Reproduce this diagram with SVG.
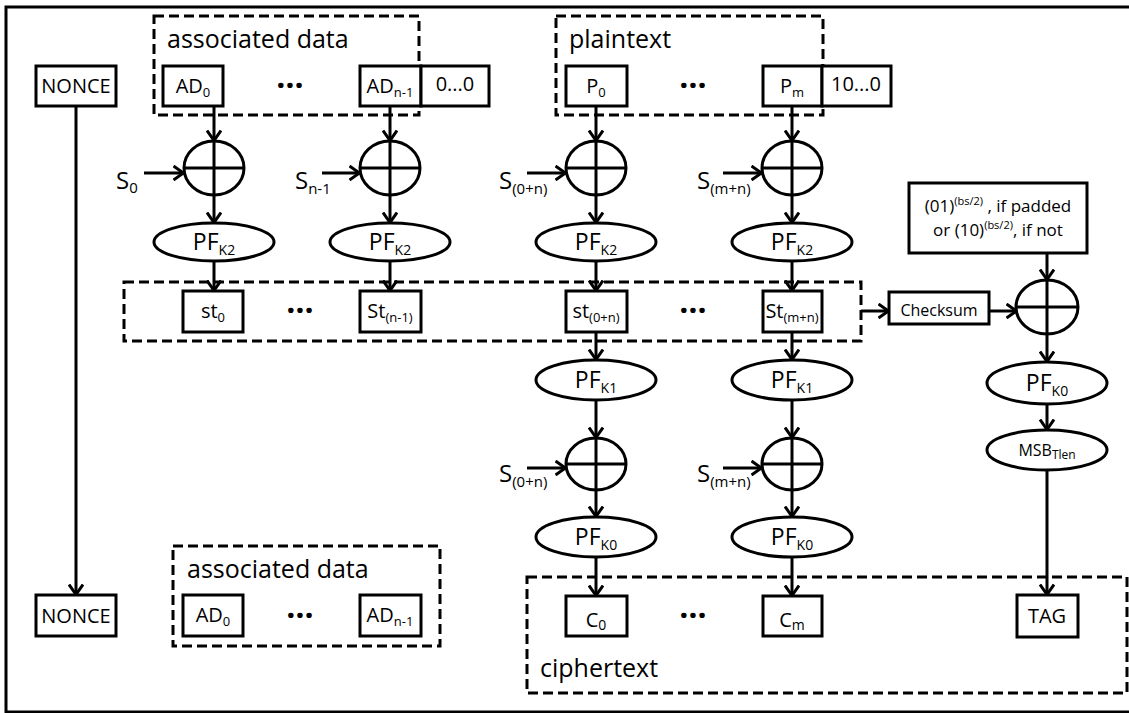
<svg xmlns="http://www.w3.org/2000/svg" width="1129" height="713" viewBox="0 0 1129 713">
<style>
text{font-family:"Open Sans","Liberation Sans",sans-serif;fill:#000}
.box{fill:#fff;stroke:#000;stroke-width:3}
.ell{fill:#fff;stroke:#000;stroke-width:3}
.grp{fill:none;stroke:#000;stroke-width:3;stroke-dasharray:10 5}
.ln{fill:none;stroke:#000;stroke-width:3}
.arr{fill:none;stroke:#000;stroke-width:3;marker-end:url(#ah)}
.lbl{font-size:20px;text-anchor:middle}
.big{font-size:25px}
.dots{font-size:32px;font-weight:bold;text-anchor:middle}
.pf{font-size:23px;text-anchor:middle}
.s{font-size:24px}
</style>
<defs>
<marker id="ah" viewBox="0 0 13 16" refX="11.5" refY="8" markerWidth="13" markerHeight="16" markerUnits="userSpaceOnUse" orient="auto">
<path d="M1,1 L11,8 L1,15" fill="none" stroke="#000" stroke-width="3"/>
</marker>
</defs>
<rect x="0" y="0" width="1129" height="713" fill="#fff"/>
<path id="frame" d="M1129,7 H6 V712 H1129" fill="none" stroke="#000" stroke-width="3"/>

<g id="groups">
<rect id="ad-top-group" class="grp" x="154" y="16" width="265" height="99"/>
<text class="big" x="167" y="48">associated data</text>
<rect id="pt-group" class="grp" x="556" y="16" width="267" height="99"/>
<text class="big" x="569" y="48">plaintext</text>
<rect id="st-group" class="grp" x="124" y="282" width="737" height="59"/>
<rect id="ad-bottom-group" class="grp" x="173" y="546" width="267" height="100"/>
<text class="big" x="187" y="578">associated data</text>
<rect id="ct-group" class="grp" x="527" y="577" width="600" height="116"/>
<text class="big" x="540" y="677">ciphertext</text>
</g>

<g id="connectors">
<line class="arr" x1="76" y1="106" x2="76" y2="595"/>
<line class="arr" x1="214" y1="106" x2="214" y2="141"/>
<line class="arr" x1="390" y1="106" x2="390" y2="141"/>
<line class="arr" x1="596" y1="106" x2="596" y2="141"/>
<line class="arr" x1="792" y1="106" x2="792" y2="141"/>
<line class="arr" x1="144" y1="173" x2="184" y2="173"/>
<line class="arr" x1="322" y1="173" x2="360" y2="173"/>
<line class="arr" x1="527" y1="173" x2="566" y2="173"/>
<line class="arr" x1="723" y1="173" x2="762" y2="173"/>
<line class="arr" x1="214" y1="195" x2="214" y2="223"/>
<line class="arr" x1="390" y1="195" x2="390" y2="223"/>
<line class="arr" x1="596" y1="195" x2="596" y2="223"/>
<line class="arr" x1="792" y1="195" x2="792" y2="223"/>
<line class="arr" x1="214" y1="261" x2="214" y2="291"/>
<line class="arr" x1="390" y1="261" x2="390" y2="291"/>
<line class="arr" x1="596" y1="261" x2="596" y2="291"/>
<line class="arr" x1="792" y1="261" x2="792" y2="291"/>
<line class="arr" x1="596" y1="332" x2="596" y2="360"/>
<line class="arr" x1="792" y1="332" x2="792" y2="360"/>
<line class="arr" x1="596" y1="400" x2="596" y2="438"/>
<line class="arr" x1="792" y1="400" x2="792" y2="438"/>
<line class="arr" x1="527" y1="468" x2="566" y2="468"/>
<line class="arr" x1="723" y1="468" x2="762" y2="468"/>
<line class="arr" x1="596" y1="490" x2="596" y2="517"/>
<line class="arr" x1="792" y1="490" x2="792" y2="517"/>
<line class="arr" x1="596" y1="557" x2="596" y2="596"/>
<line class="arr" x1="792" y1="557" x2="792" y2="596"/>
<line class="arr" x1="861" y1="311" x2="889" y2="311"/>
<line class="arr" x1="989" y1="311" x2="1017" y2="311"/>
<line class="arr" x1="1047" y1="253" x2="1047" y2="280"/>
<line class="arr" x1="1047" y1="334" x2="1047" y2="362"/>
<line class="arr" x1="1047" y1="404" x2="1047" y2="430"/>
<line class="arr" x1="1047" y1="470" x2="1047" y2="595"/>
</g>

<g id="s-labels">
<text class="s" x="116" y="189">S<tspan font-size="15" dy="4">0</tspan></text>
<text class="s" x="295" y="189">S<tspan font-size="15" dy="5">n-1</tspan></text>
<text class="s" x="499" y="189">S<tspan font-size="15" dy="5">(0+n)</tspan></text>
<text class="s" x="697" y="189">S<tspan font-size="15" dy="5">(m+n)</tspan></text>
<text class="s" x="499" y="482">S<tspan font-size="15" dy="5">(0+n)</tspan></text>
<text class="s" x="697" y="482">S<tspan font-size="15" dy="5">(m+n)</tspan></text>
</g>

<g id="nonce-top"><rect class="box" x="36" y="66" width="80" height="40"/><text class="lbl" x="76" y="93" font-size="20">NONCE</text></g>
<g id="ad0-top"><rect class="box" x="163" y="66" width="60" height="40"/><text class="lbl" x="193" y="93">AD<tspan font-size="13" dy="4">0</tspan></text></g>
<g id="adn1-top"><rect class="box" x="360" y="66" width="61" height="40"/><text class="lbl" x="390" y="93">AD<tspan font-size="13" dy="4">n-1</tspan></text></g>
<g id="pad-ad"><rect class="box" x="421" y="66" width="68" height="40"/><text class="lbl" x="455" y="91" font-size="15">0...0</text></g>
<g id="p0"><rect class="box" x="566" y="66" width="61" height="40"/><text class="lbl" x="596" y="93">P<tspan font-size="13" dy="4">0</tspan></text></g>
<g id="pm"><rect class="box" x="763" y="66" width="59" height="40"/><text class="lbl" x="792" y="93">P<tspan font-size="13" dy="4">m</tspan></text></g>
<g id="pad-p"><rect class="box" x="822" y="66" width="69" height="40"/><text class="lbl" x="856" y="91" font-size="15">10...0</text></g>
<text class="dots" x="290" y="88">…</text>
<text class="dots" x="693" y="88">…</text>

<g id="xor-ad0"><ellipse class="ell" cx="214" cy="168" rx="30" ry="27"/><path class="ln" d="M214,141V195M184,168H244"/></g>
<g id="xor-adn1"><ellipse class="ell" cx="390" cy="168" rx="30" ry="27"/><path class="ln" d="M390,141V195M360,168H420"/></g>
<g id="xor-p0"><ellipse class="ell" cx="596" cy="168" rx="30" ry="27"/><path class="ln" d="M596,141V195M566,168H626"/></g>
<g id="xor-pm"><ellipse class="ell" cx="792" cy="168" rx="30" ry="27"/><path class="ln" d="M792,141V195M762,168H822"/></g>

<g id="pfk2-ad0"><ellipse class="ell" cx="214" cy="242" rx="60" ry="19"/><text class="pf" x="214" y="250">PF<tspan font-size="14" dy="5">K2</tspan></text></g>
<g id="pfk2-adn1"><ellipse class="ell" cx="390" cy="242" rx="60" ry="19"/><text class="pf" x="390" y="250">PF<tspan font-size="14" dy="5">K2</tspan></text></g>
<g id="pfk2-p0"><ellipse class="ell" cx="596" cy="242" rx="60" ry="19"/><text class="pf" x="596" y="250">PF<tspan font-size="14" dy="5">K2</tspan></text></g>
<g id="pfk2-pm"><ellipse class="ell" cx="792" cy="242" rx="60" ry="19"/><text class="pf" x="792" y="250">PF<tspan font-size="14" dy="5">K2</tspan></text></g>

<g id="st0"><rect class="box" x="183" y="291" width="60" height="41"/><text class="lbl" x="213" y="318">st<tspan font-size="13" dy="4">0</tspan></text></g>
<g id="stn1"><rect class="box" x="360" y="291" width="61" height="41"/><text class="lbl" x="390" y="318">St<tspan font-size="13" dy="4">(n-1)</tspan></text></g>
<g id="st0n"><rect class="box" x="566" y="291" width="61" height="41"/><text class="lbl" x="596" y="318">st<tspan font-size="13" dy="4">(0+n)</tspan></text></g>
<g id="stmn"><rect class="box" x="763" y="291" width="59" height="41"/><text class="lbl" x="792" y="318">St<tspan font-size="13" dy="4">(m+n)</tspan></text></g>
<text class="dots" x="300" y="313">…</text>
<text class="dots" x="693" y="313">…</text>

<g id="pfk1-0"><ellipse class="ell" cx="596" cy="380" rx="60" ry="20"/><text class="pf" x="596" y="388">PF<tspan font-size="14" dy="5">K1</tspan></text></g>
<g id="pfk1-m"><ellipse class="ell" cx="792" cy="380" rx="60" ry="20"/><text class="pf" x="792" y="388">PF<tspan font-size="14" dy="5">K1</tspan></text></g>

<g id="xor-c0"><ellipse class="ell" cx="596" cy="464" rx="30" ry="26"/><path class="ln" d="M596,438V490M566,464H626"/></g>
<g id="xor-cm"><ellipse class="ell" cx="792" cy="464" rx="30" ry="26"/><path class="ln" d="M792,438V490M762,464H822"/></g>

<g id="pfk0-0"><ellipse class="ell" cx="596" cy="537" rx="60" ry="20"/><text class="pf" x="596" y="545">PF<tspan font-size="14" dy="5">K0</tspan></text></g>
<g id="pfk0-m"><ellipse class="ell" cx="792" cy="537" rx="60" ry="20"/><text class="pf" x="792" y="545">PF<tspan font-size="14" dy="5">K0</tspan></text></g>

<g id="c0"><rect class="box" x="566" y="596" width="61" height="40"/><text class="lbl" x="596" y="627" font-size="23">C<tspan font-size="14" dy="3">0</tspan></text></g>
<g id="cm"><rect class="box" x="763" y="596" width="59" height="40"/><text class="lbl" x="792" y="627" font-size="23">C<tspan font-size="14" dy="3">m</tspan></text></g>
<text class="dots" x="693" y="618">…</text>

<g id="pad-const"><rect class="box" x="909" y="183" width="178" height="70"/>
<text x="998" y="212" font-size="17" text-anchor="middle">(01)<tspan font-size="11" dy="-7">(bs/2)</tspan><tspan dy="7"> , if padded</tspan></text>
<text x="998" y="236" font-size="17" text-anchor="middle">or (10)<tspan font-size="11" dy="-7">(bs/2)</tspan><tspan dy="7">, if not</tspan></text>
</g>
<g id="checksum"><rect class="box" x="889" y="292" width="100" height="32"/><text x="939" y="316" font-size="16" text-anchor="middle">Checksum</text></g>
<g id="xor-tag"><ellipse class="ell" cx="1047" cy="307" rx="31" ry="27"/><path class="ln" d="M1047,280V334M1016,307H1078"/></g>
<g id="pfk0-tag"><ellipse class="ell" cx="1047" cy="383" rx="60" ry="21"/><text class="pf" x="1047" y="391">PF<tspan font-size="14" dy="5">K0</tspan></text></g>
<g id="msb"><ellipse class="ell" cx="1047" cy="450" rx="60" ry="20"/><text x="1047" y="456" font-size="16" text-anchor="middle">MSB<tspan font-size="12" dy="3">Tlen</tspan></text></g>
<g id="tag"><rect class="box" x="1017" y="595" width="61" height="42"/><text class="lbl" x="1047" y="623">TAG</text></g>

<g id="nonce-bottom"><rect class="box" x="36" y="595" width="80" height="41"/><text class="lbl" x="76" y="623" font-size="20">NONCE</text></g>
<g id="ad0-bottom"><rect class="box" x="183" y="595" width="60" height="41"/><text class="lbl" x="213" y="622">AD<tspan font-size="13" dy="4">0</tspan></text></g>
<g id="adn1-bottom"><rect class="box" x="360" y="595" width="61" height="41"/><text class="lbl" x="390" y="622">AD<tspan font-size="13" dy="4">n-1</tspan></text></g>
<text class="dots" x="300" y="618">…</text>
</svg>
